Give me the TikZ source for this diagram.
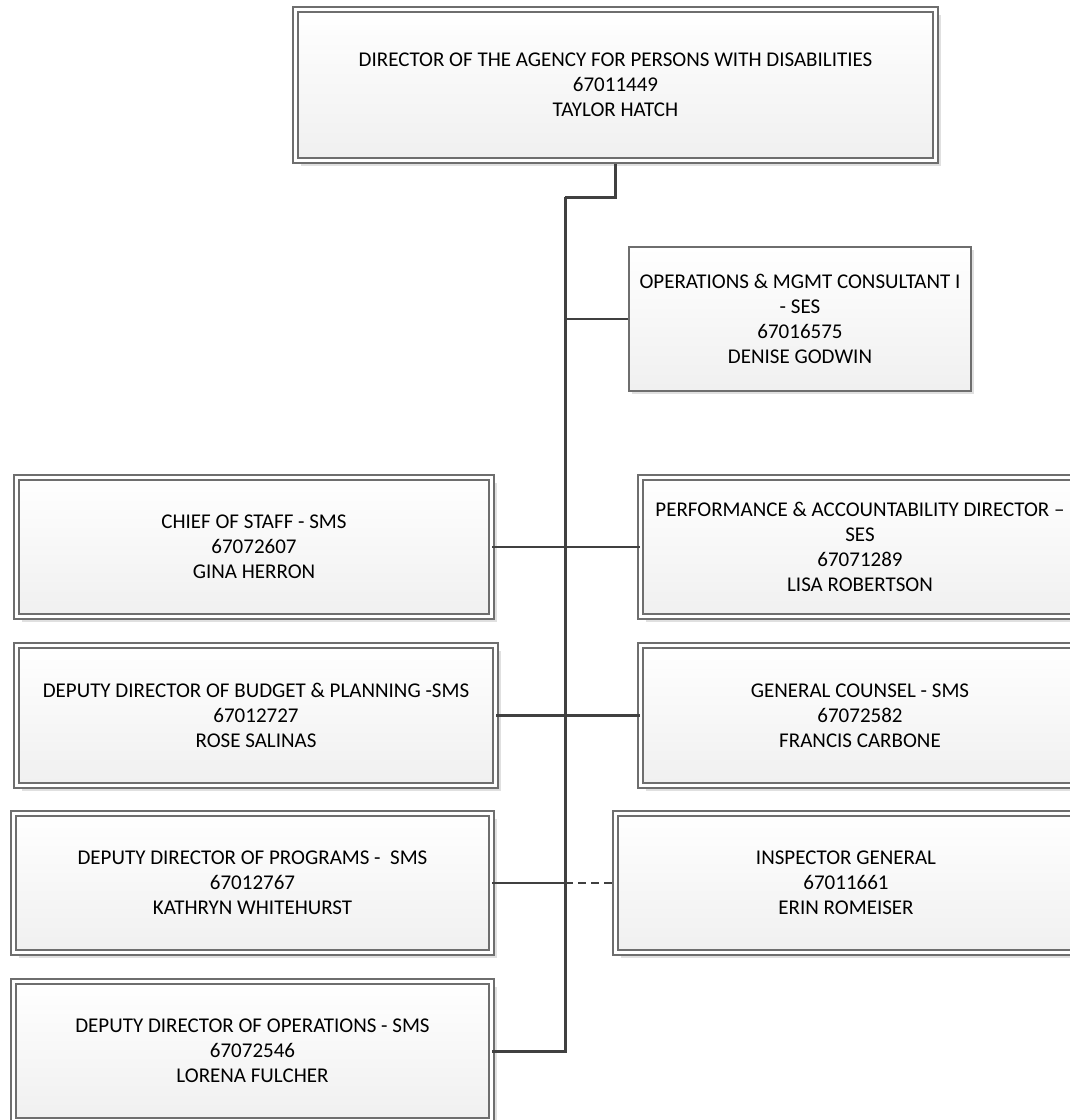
\documentclass[tikz,border=0pt]{standalone}
\usepackage{fontspec}
\setmainfont{Carlito}
\usetikzlibrary{shadows}
\definecolor{wire}{HTML}{404040}
\definecolor{rim}{HTML}{6E6E6E}
\tikzset{
	post/.style={draw=rim, line width=0.6pt, double=white, double distance=1.9pt,
		top color=white, bottom color=black!6, inner sep=0pt, align=center,
		font=\fontsize{10.5pt}{12.5pt}\selectfont,
		drop shadow={shadow xshift=2.5pt, shadow yshift=-2.5pt, fill=black!12, opacity=1}},
	postsingle/.style={draw=rim, line width=0.6pt,
		top color=white, bottom color=black!6, inner sep=0pt, align=center,
		font=\fontsize{10.5pt}{12.5pt}\selectfont,
		drop shadow={shadow xshift=1.5pt, shadow yshift=-1.5pt, fill=black!12, opacity=1}},
	spineline/.style={line width=1.5pt, color=wire},
	link/.style={line width=1.25pt, color=wire}
}

\begin{document}
\begin{tikzpicture}[x=0.5pt, y=-0.5pt]
			%%%%% START %%%%%
			\useasboundingbox (0, 0) rectangle (1070, 1120);
			\clip (0, 0) rectangle (1070, 1120);
			
			\node[post, minimum width=320pt, minimum height=75.5pt] (dir) at (615.5, 85)
				{DIRECTOR OF THE AGENCY FOR PERSONS WITH DISABILITIES\\67011449\\TAYLOR HATCH};
			
			\node[postsingle, minimum width=171pt, minimum height=72pt] (omc) at (800, 319)
				{OPERATIONS \& MGMT CONSULTANT I\\- SES\\67016575\\DENISE GODWIN};
			
			\node[post, minimum width=237.5pt, minimum height=69.5pt] (cos) at (254, 547)
				{CHIEF OF STAFF - SMS\\67072607\\GINA HERRON};
			\node[post, minimum width=219.5pt, minimum height=69.5pt] (perf) at (860, 547)
				{PERFORMANCE \& ACCOUNTABILITY DIRECTOR --\\SES\\67071289\\LISA ROBERTSON};
			
			\node[post, minimum width=239.5pt, minimum height=70pt] (bud) at (256, 715.5)
				{DEPUTY DIRECTOR OF BUDGET \& PLANNING -SMS\\67012727\\ROSE SALINAS};
			\node[post, minimum width=219.5pt, minimum height=70pt] (gc) at (860, 715.5)
				{GENERAL COUNSEL - SMS\\67072582\\FRANCIS CARBONE};
			
			\node[post, minimum width=239pt, minimum height=69.5pt] (prog) at (252.5, 883)
				{DEPUTY DIRECTOR OF PROGRAMS - \ SMS\\67012767\\KATHRYN WHITEHURST};
			\node[post, minimum width=230.5pt, minimum height=69.5pt] (ig) at (846, 883)
				{INSPECTOR GENERAL\\67011661\\ERIN ROMEISER};
			
			\node[post, minimum width=239pt, minimum height=69.5pt] (ops) at (252.5, 1051)
				{DEPUTY DIRECTOR OF OPERATIONS - SMS\\67072546\\LORENA FULCHER};
			
			% spine
			\coordinate (spine) at (565, 197);
			\draw[spineline, shorten <=1.25pt] (dir.south) |- (spine);
			\draw[spineline] (spine) |- (ops.east);
			
			% branches
			\draw[link] (omc.west) -- (omc.west -| spine);
			\draw[link] (cos.east) -- (perf.west);
			\draw[link] (bud.east) -- (gc.west);
			\draw[link] (prog.east) -- (prog.east -| spine);
			\draw[link, dash pattern=on 4pt off 2.5pt] (prog.east -| spine) -- (ig.west);
			
			%%%%% END %%%%%
\end{tikzpicture}
\end{document}
